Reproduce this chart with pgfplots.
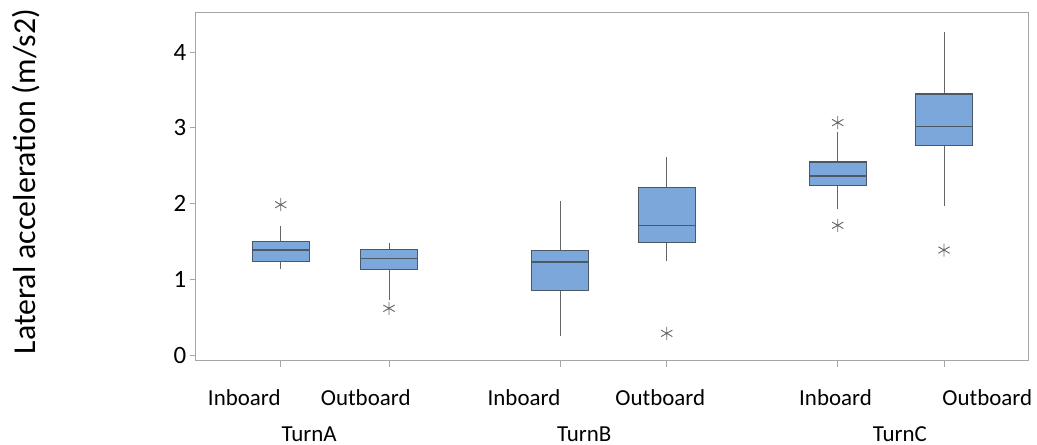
\documentclass[border=0pt]{standalone}
\usepackage{fontspec}
\setmainfont{Carlito}
\usepackage{pgfplots}
\pgfplotsset{compat=1.18}
\usepgfplotslibrary{statistics}

\definecolor{boxfill}{HTML}{7BA7DA}
\definecolor{boxedge}{HTML}{4A5868}
\definecolor{whisk}{HTML}{666666}
\definecolor{framegray}{HTML}{A6A6A6}

\pgfplotsset{
  turnbox/.style={
    fill=boxfill, draw=boxedge, line width=1.1bp,
    mark=asterisk, mark size=6.5bp,
    mark options={draw=whisk, line width=0.9bp},
    boxplot/every whisker/.style={draw=whisk, line width=0.9bp},
    boxplot/every median/.style={draw=boxedge, line width=1.1bp},
  },
}

\begin{document}
\begin{tikzpicture}
\useasboundingbox (0,0) rectangle (1037bp,445bp);
\begin{axis}[
  at={(195.7bp,84bp)}, anchor=south west,
  scale only axis, width=833bp, height=348.7bp,
  xmin=195.7, xmax=1028.7, ymin=-0.075, ymax=4.525,
  axis line style={framegray, line width=1bp},
  xtick={280.7,389,560,666.7,837.7,944}, xticklabel=\empty,
  ytick={0,1,2,3,4},
  tick style={framegray, line width=0.8bp},
  tick align=outside, tick pos=left,
  major tick length=6bp,
  yticklabel style={font=\fontsize{25}{30}\selectfont, text=black},
  /pgf/number format/assume math mode=true,
  boxplot/draw direction=y,
  boxplot/whisker extend=0,
  boxplot/box extend=57,
]
% TurnA
\addplot[turnbox, boxplot prepared={draw position=280.7,
  lower whisker=1.143, lower quartile=1.235, median=1.389,
  upper quartile=1.504, upper whisker=1.706}]
  coordinates {(0,1.987)};
\addplot[turnbox, boxplot prepared={draw position=389,
  lower whisker=0.730, lower quartile=1.129, median=1.280,
  upper quartile=1.398, upper whisker=1.478}]
  coordinates {(0,0.620)};
% TurnB
\addplot[turnbox, boxplot prepared={draw position=560,
  lower whisker=0.250, lower quartile=0.857, median=1.231,
  upper quartile=1.380, upper whisker=2.030}]
  coordinates {};
\addplot[turnbox, boxplot prepared={draw position=666.7,
  lower whisker=1.244, lower quartile=1.490, median=1.715,
  upper quartile=2.216, upper whisker=2.610}]
  coordinates {(0,0.290)};
% TurnC
\addplot[turnbox, boxplot prepared={draw position=837.7,
  lower whisker=1.930, lower quartile=2.240, median=2.365,
  upper quartile=2.550, upper whisker=2.940}]
  coordinates {(0,3.070) (0,1.715)};
\addplot[turnbox, boxplot prepared={draw position=944,
  lower whisker=1.970, lower quartile=2.765, median=3.020,
  upper quartile=3.447, upper whisker=4.270}]
  coordinates {(0,1.389)};
\end{axis}

% category labels
\begin{scope}[every node/.style={font=\fontsize{23}{28}\selectfont, anchor=base, inner sep=0pt}]
\node at (244.3bp,39.3bp) {Inboard};
\node at (365.7bp,39.3bp) {Outboard};
\node at (524bp,39.3bp) {Inboard};
\node at (660.3bp,39.3bp) {Outboard};
\node at (835.5bp,39.3bp) {Inboard};
\node at (987.3bp,39.3bp) {Outboard};
\node at (309.2bp,4bp) {TurnA};
\node at (584.3bp,4bp) {TurnB};
\node at (899.8bp,4bp) {TurnC};
\end{scope}

\node[rotate=90, anchor=base, inner sep=0pt, font=\fontsize{32}{37}\selectfont]
  at (35bp,263.5bp) {Lateral acceleration (m/s2)};
\end{tikzpicture}
\end{document}
